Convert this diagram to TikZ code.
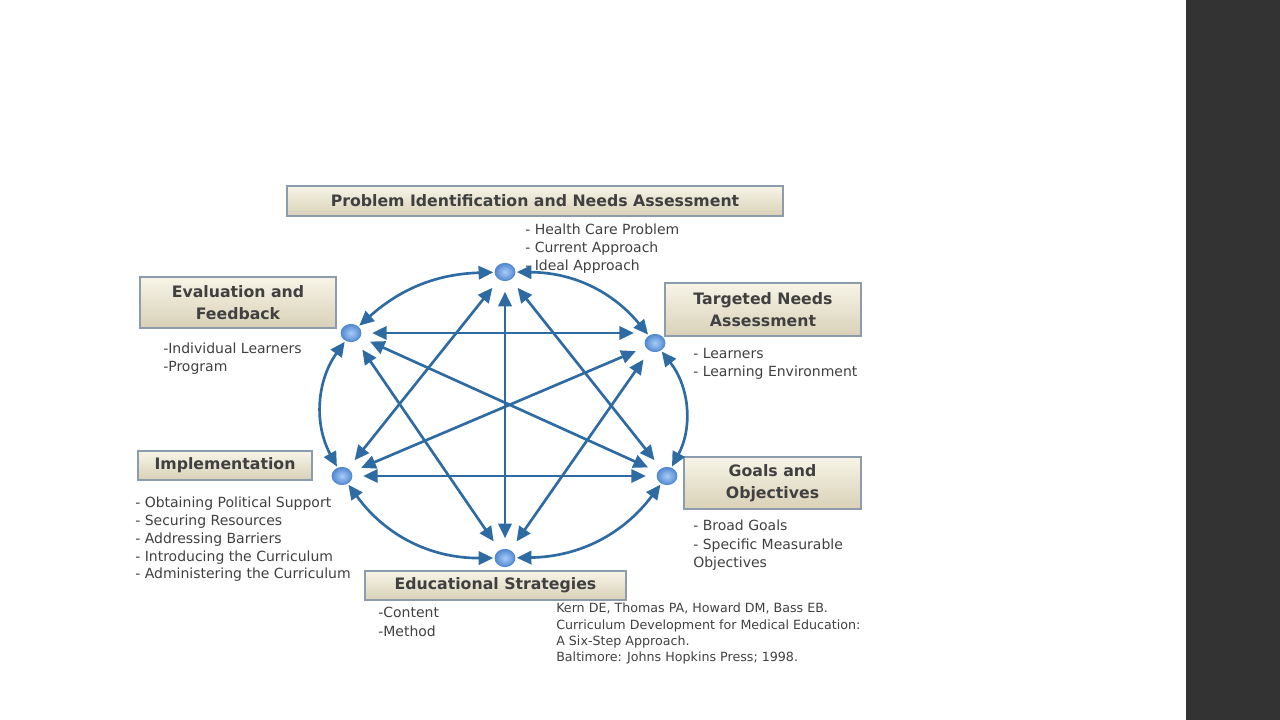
\documentclass[tikz,border=0pt]{standalone}
\usepackage{fontspec}
\setmainfont{DejaVu Sans}
\usetikzlibrary{arrows.meta,shapes.geometric}
\definecolor{myblue}{rgb}{0.18,0.42,0.64}
\definecolor{mydotin}{rgb}{0.66,0.80,0.97}
\definecolor{mydotout}{rgb}{0.32,0.54,0.82}
\definecolor{mybox}{rgb}{0.85,0.82,0.72}
\definecolor{myboxtop}{rgb}{0.97,0.96,0.91}
\definecolor{myedge}{rgb}{0.55,0.61,0.68}
\definecolor{mytext}{gray}{0.25}
\definecolor{mybar}{gray}{0.2}

\begin{document}
\begin{tikzpicture}[x=0.75pt,y=0.75pt,
  stepdot/.style={ellipse,minimum width=15pt,minimum height=13pt,inner sep=0pt,draw=mydotout,line width=0.6pt,
    inner color=mydotin,outer color=mydotout},
  stepbox/.style={draw=myedge,line width=1.2pt,top color=myboxtop,bottom color=mybox,text=mytext,
    font=\bfseries\fontsize{11.8}{16.5}\selectfont,align=center,inner sep=0pt},
  notes/.style={anchor=north west,inner sep=0pt,align=left,text=mytext,font=\fontsize{10.5}{13.5}\selectfont},
  link/.style={myblue,line width=2pt,{Triangle[length=11pt,width=10pt]}-{Triangle[length=11pt,width=10pt]}},
  chord/.style={link,shorten <=8pt,shorten >=8pt},
  rim/.style={link,shorten <=1pt,shorten >=1pt}]

\useasboundingbox (0,0) rectangle (1280,720);
\fill[mybar] (1186,0) rectangle (1280,720);

% the six steps
\node[stepbox,minimum width=372pt,minimum height=22.5pt] (problem) at (535,519) {Problem Identification and Needs Assessment};
\node[stepbox,minimum width=147pt,minimum height=38.25pt] (evaluation) at (238,417.5) {Evaluation and\\Feedback};
\node[stepbox,minimum width=147pt,minimum height=39.75pt] (needs) at (763,410.5) {Targeted Needs\\Assessment};
\node[stepbox,minimum width=130.5pt,minimum height=21.75pt] (implementation) at (225,254.5) {Implementation};
\node[stepbox,minimum width=132.75pt,minimum height=39pt] (goals) at (772.5,237) {Goals and\\Objectives};
\node[stepbox,minimum width=195.75pt,minimum height=21.75pt] (strategies) at (495.5,134.5) {Educational Strategies};

% dots on the cycle
\node[stepdot] (top) at (505,448) {};
\node[stepdot] (ur) at (655,377) {};
\node[stepdot] (lr) at (667,244) {};
\node[stepdot] (bot) at (505,162) {};
\node[stepdot] (ll) at (342,244) {};
\node[stepdot] (ul) at (351,387) {};

\draw[rim] (top) to[bend left=25] (ur);
\draw[rim] (ur) to[bend left=33] (lr);
\draw[rim] (lr) to[bend left=26] (bot);
\draw[rim] (bot) to[bend left=27] (ll);
\draw[rim] (ll) to[bend left=32] (ul);
\draw[rim] (ul) to[bend left=20] (top);

\draw[chord] (ul) -- (ul -| ur.west);
\foreach \a/\b in {top/bot,top/ll,top/lr,ul/lr,ul/bot,ur/ll,ur/bot,ll/lr}
  \draw[chord] (\a) -- (\b);

% notes
\node[notes] (problemnotes) at (525,496) {- Health Care Problem\\- Current Approach\\- Ideal Approach};
\node[notes] (evaluationnotes) at (163,377) {-Individual Learners\\-Program};
\node[notes] (needsnotes) at (693,372) {- Learners\\- Learning Environment};
\node[notes,font=\fontsize{10.5}{13.3}\selectfont] (implementationnotes) at (135,223)
  {- Obtaining Political Support\\- Securing Resources\\- Addressing Barriers\\- Introducing the Curriculum\\- Administering the Curriculum};
\node[notes,font=\fontsize{10.5}{13.9}\selectfont] (goalsnotes) at (693,200) {- Broad Goals\\- Specific Measurable\\Objectives};
\node[notes,font=\fontsize{10.5}{14.2}\selectfont] (strategiesnotes) at (378,113) {-Content\\-Method};
\node[notes,font=\fontsize{9.5}{12.2}\selectfont] (source) at (556,117)
  {Kern DE, Thomas PA, Howard DM, Bass EB.\\Curriculum Development for Medical Education:\\A Six-Step Approach.\\Baltimore: Johns Hopkins Press; 1998.};
\end{tikzpicture}
\end{document}
